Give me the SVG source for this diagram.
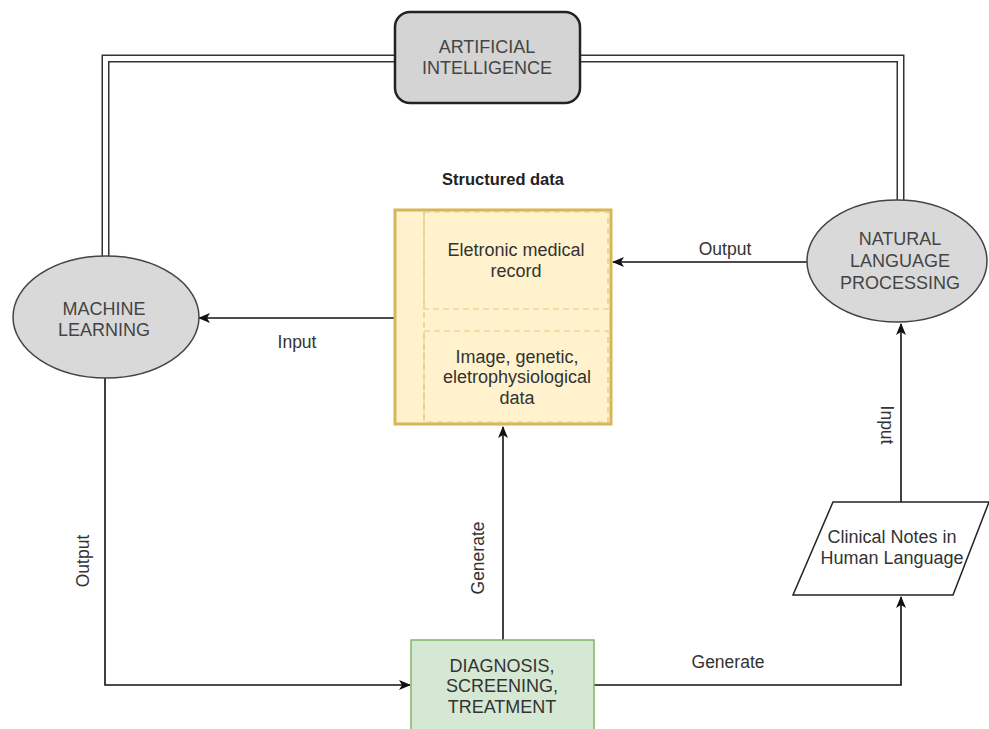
<svg xmlns="http://www.w3.org/2000/svg" width="989" height="729" viewBox="0 0 989 729">
  <style>
    text { font-family: "Liberation Sans", Arial, sans-serif; font-size: 18px; fill: #333; text-anchor: middle; }
    .lbl { font-size: 17.5px; }
    .title { font-weight: bold; font-size: 16.5px; fill: #222; }
    .grey { fill: #444; }
    .edge { fill: none; stroke: #111; stroke-width: 1.6; }
    .link-out { fill: none; stroke: #333; stroke-width: 8; }
    .link-in { fill: none; stroke: #fff; stroke-width: 5; }
    .dash { fill: none; stroke: #e3c97e; stroke-width: 1.2; stroke-dasharray: 6 4; }
  </style>
  <defs>
    <marker id="arrow" viewBox="0 0 12 10" refX="11" refY="5" markerWidth="12" markerHeight="10" markerUnits="userSpaceOnUse" orient="auto">
      <path d="M0,0 L12,5 L0,10 L3,5 Z" fill="#111"/>
    </marker>
  </defs>

  <rect width="989" height="729" fill="#fff"/>

  <!-- connectors -->
  <g id="connectors">
    <!-- double links from AI to ML and NLP -->
    <path class="link-out" d="M105.5,256 V58.5 H400"/>
    <path class="link-in" d="M105.5,256 V58.5 H400"/>
    <path class="link-out" d="M575,58.5 H900.5 V201"/>
    <path class="link-in" d="M575,58.5 H900.5 V201"/>

    <!-- structured data -> ML -->
    <path class="edge" d="M394,318 H199" marker-end="url(#arrow)"/>
    <!-- NLP -> structured data -->
    <path class="edge" d="M808,262 H613" marker-end="url(#arrow)"/>
    <!-- ML -> diagnosis -->
    <path class="edge" d="M105,378 V685 H410" marker-end="url(#arrow)"/>
    <!-- diagnosis -> structured data -->
    <path class="edge" d="M503,640 V427" marker-end="url(#arrow)"/>
    <!-- diagnosis -> clinical notes -->
    <path class="edge" d="M594,685 H901 V597" marker-end="url(#arrow)"/>
    <!-- clinical notes -> NLP -->
    <path class="edge" d="M901,502 V324" marker-end="url(#arrow)"/>

    <text class="lbl" x="297" y="348">Input</text>
    <text class="lbl" x="725" y="255">Output</text>
    <text class="lbl" x="728" y="668">Generate</text>
    <text class="lbl" transform="translate(89,561) rotate(-90)">Output</text>
    <text class="lbl" transform="translate(484,558) rotate(-90)">Generate</text>
    <text class="lbl" transform="translate(881,425) rotate(90)">Input</text>
  </g>

  <!-- AI -->
  <g id="artificial-intelligence">
    <rect x="395" y="12" width="185" height="91" rx="15" fill="#d4d4d4" stroke="#222" stroke-width="2.5"/>
    <text class="grey" x="487" y="53">ARTIFICIAL</text>
    <text class="grey" x="487" y="74">INTELLIGENCE</text>
  </g>

  <!-- ML -->
  <g id="machine-learning">
    <ellipse cx="106" cy="317" rx="93" ry="61" fill="#d9d9d9" stroke="#444" stroke-width="1.5"/>
    <text class="grey" x="104" y="315">MACHINE</text>
    <text class="grey" x="104" y="336">LEARNING</text>
  </g>

  <!-- NLP -->
  <g id="natural-language-processing">
    <ellipse cx="897" cy="261" rx="90" ry="61" fill="#d9d9d9" stroke="#444" stroke-width="1.5"/>
    <text class="grey" x="900" y="245">NATURAL</text>
    <text class="grey" x="900" y="267">LANGUAGE</text>
    <text class="grey" x="900" y="289">PROCESSING</text>
  </g>

  <!-- Structured data -->
  <g id="structured-data">
    <text class="title" x="503" y="185">Structured data</text>
    <rect x="395" y="210" width="216" height="214" fill="#fff2cc" stroke="#d6b656" stroke-width="3"/>
    <line class="dash" x1="424" y1="212" x2="424" y2="422"/>
    <rect class="dash" x="424" y="212" width="184" height="97"/>
    <rect class="dash" x="424" y="331" width="184" height="91"/>
    <text x="516" y="256">Eletronic medical</text>
    <text x="516" y="277">record</text>
    <text x="517" y="363">Image, genetic,</text>
    <text x="517" y="383">eletrophysiological</text>
    <text x="517" y="404">data</text>
  </g>

  <!-- Diagnosis -->
  <g id="diagnosis">
    <rect x="411" y="640" width="183" height="95" fill="#d5e8d4" stroke="#82b366" stroke-width="1.5"/>
    <text x="502" y="672">DIAGNOSIS,</text>
    <text x="502" y="692">SCREENING,</text>
    <text x="502" y="713">TREATMENT</text>
  </g>

  <!-- Clinical notes -->
  <g id="clinical-notes">
    <polygon points="833,502 989,502 953,595 793,595" fill="#fff" stroke="#222" stroke-width="1.5"/>
    <text x="892" y="543">Clinical Notes in</text>
    <text x="892" y="564">Human Language</text>
  </g>
</svg>
